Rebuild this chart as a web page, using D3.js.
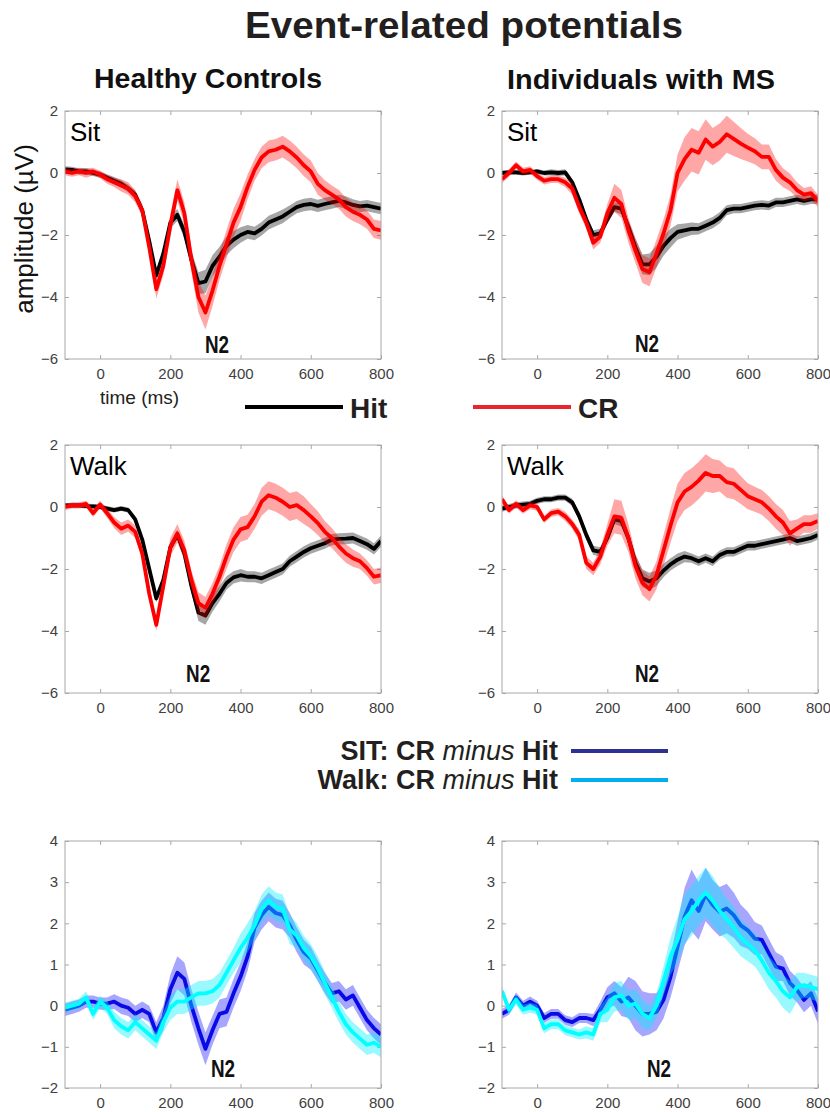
<!DOCTYPE html>
<html lang="en">
<head>
<meta charset="utf-8">
<title>Event-related potentials</title>
<script src="https://d3js.org/d3.v7.min.js"></script>
<style>
  body { margin: 0; background: #fff; }
  svg text { font-family: "Liberation Sans", Arial, sans-serif; }
  .axis text { font-size: 15px; fill: #404040; }
  .axis line { stroke: #a8a8a8; }
  .axis path { display: none; }
</style>
</head>
<body>
<script>
// time grid (ms), 20 ms steps
const times = [-100,-80,-60,-40,-20,0,20,40,60,80,
  100,120,140,160,180,200,220,240,260,280,
  300,320,340,360,380,400,420,440,460,480,
  500,520,540,560,580,600,620,640,660,680,
  700,720,740,760,780,800];

const erpTicks = [-6, -4, -2, 0, 2];
const diffTicks = [-2, -1, 0, 1, 2, 3, 4];
const timeTicks = [0, 200, 400, 600, 800];

// Healthy controls, Sit
const hcSitHit = [0.12,0.1,0.05,0.05,0.0,-0.05,-0.15,-0.25,-0.35,-0.5,
  -0.7,-1.2,-2.2,-3.3,-2.6,-1.6,-1.35,-1.9,-2.8,-3.55,
  -3.5,-3.0,-2.7,-2.35,-2.15,-2.0,-1.9,-1.95,-1.8,-1.6,
  -1.5,-1.4,-1.25,-1.1,-1.03,-1.0,-1.06,-1.0,-0.95,-0.9,
  -0.95,-1.03,-1.08,-1.05,-1.1,-1.15];
const hcSitHitSe = [0.1,0.1,0.1,0.1,0.1,0.1,0.1,0.12,0.12,0.12,
  0.13,0.15,0.15,0.15,0.15,0.18,0.2,0.22,0.28,0.35,
  0.38,0.35,0.32,0.3,0.28,0.25,0.22,0.22,0.22,0.22,
  0.22,0.22,0.2,0.2,0.2,0.2,0.2,0.2,0.2,0.2,
  0.2,0.18,0.18,0.18,0.18,0.18];
const hcSitCr = [0.05,0.0,0.05,0.0,0.05,-0.05,-0.2,-0.3,-0.4,-0.5,
  -0.75,-1.2,-2.4,-3.75,-3.0,-1.7,-0.55,-1.3,-2.8,-4.0,
  -4.5,-3.8,-3.0,-2.3,-1.6,-1.1,-0.45,0.1,0.5,0.7,
  0.75,0.85,0.7,0.5,0.25,0.05,-0.35,-0.55,-0.7,-0.85,
  -1.1,-1.25,-1.35,-1.5,-1.8,-1.85];
const hcSitCrSe = [0.12,0.12,0.12,0.15,0.12,0.12,0.15,0.15,0.2,0.2,
  0.2,0.2,0.25,0.3,0.3,0.35,0.35,0.35,0.4,0.5,
  0.55,0.5,0.45,0.45,0.45,0.45,0.4,0.35,0.35,0.35,
  0.35,0.35,0.35,0.35,0.35,0.35,0.35,0.32,0.3,0.3,
  0.3,0.3,0.3,0.3,0.3,0.3];

// Individuals with MS, Sit
const msSitHit = [0.0,0.02,0.02,0.0,0.02,0.05,0.0,0.02,0.0,0.02,
  -0.3,-0.85,-1.5,-2.0,-1.95,-1.5,-1.1,-1.15,-1.75,-2.4,
  -2.95,-2.95,-2.7,-2.35,-2.1,-1.9,-1.85,-1.8,-1.8,-1.7,
  -1.6,-1.45,-1.2,-1.15,-1.15,-1.1,-1.05,-1.03,-1.05,-0.95,
  -0.95,-0.9,-0.85,-0.9,-0.85,-0.85];
const msSitHitSe = [0.08,0.08,0.08,0.08,0.08,0.08,0.08,0.1,0.1,0.1,
  0.1,0.12,0.15,0.15,0.15,0.15,0.15,0.18,0.22,0.28,
  0.32,0.35,0.35,0.32,0.3,0.25,0.22,0.2,0.18,0.18,
  0.18,0.18,0.16,0.15,0.15,0.15,0.15,0.15,0.15,0.15,
  0.15,0.15,0.15,0.15,0.15,0.15];
const msSitCr = [-0.2,0.0,0.25,0.05,0.1,-0.1,-0.25,-0.2,-0.2,-0.3,
  -0.5,-1.1,-1.6,-2.25,-2.05,-1.3,-0.8,-1.0,-1.85,-2.5,
  -3.1,-3.2,-2.6,-1.95,-1.2,0.0,0.45,0.75,0.65,1.08,
  0.85,1.0,1.25,1.1,0.95,0.82,0.7,0.52,0.52,0.1,
  -0.15,-0.3,-0.55,-0.7,-0.65,-0.9];
const msSitCrSe = [0.12,0.12,0.12,0.12,0.12,0.12,0.12,0.12,0.12,0.15,
  0.2,0.2,0.2,0.22,0.2,0.3,0.45,0.45,0.4,0.4,
  0.45,0.45,0.45,0.45,0.5,0.6,0.7,0.7,0.7,0.65,
  0.6,0.6,0.6,0.55,0.5,0.45,0.42,0.4,0.4,0.35,
  0.3,0.28,0.25,0.22,0.22,0.2];

// Healthy controls, Walk
const hcWalkHit = [0.05,0.05,0.05,0.03,0.02,0.0,-0.05,-0.1,-0.05,-0.1,
  -0.4,-1.05,-2.0,-2.95,-2.35,-1.3,-0.9,-1.5,-2.55,-3.4,
  -3.5,-3.1,-2.8,-2.45,-2.27,-2.2,-2.25,-2.25,-2.3,-2.2,
  -2.1,-2.0,-1.75,-1.6,-1.45,-1.33,-1.25,-1.17,-1.05,-1.03,
  -1.02,-1.0,-1.1,-1.2,-1.35,-1.1];
const hcWalkHitSe = [0.08,0.08,0.08,0.08,0.08,0.08,0.08,0.08,0.08,0.08,
  0.1,0.12,0.12,0.12,0.15,0.15,0.15,0.18,0.22,0.28,
  0.3,0.28,0.25,0.22,0.2,0.2,0.18,0.18,0.18,0.18,
  0.18,0.18,0.18,0.18,0.18,0.18,0.18,0.18,0.18,0.18,
  0.18,0.18,0.18,0.18,0.18,0.18];
const hcWalkCr = [0.0,0.05,0.05,0.1,-0.2,0.08,-0.2,-0.5,-0.7,-0.6,
  -0.8,-1.5,-2.8,-3.8,-2.55,-1.3,-0.85,-1.4,-2.35,-3.1,
  -3.25,-2.8,-2.25,-1.6,-1.05,-0.72,-0.65,-0.3,0.17,0.38,
  0.3,0.17,0.0,0.06,-0.1,-0.3,-0.52,-0.8,-1.0,-1.27,
  -1.5,-1.65,-1.75,-1.97,-2.25,-2.2];
const hcWalkCrSe = [0.1,0.1,0.1,0.1,0.12,0.12,0.15,0.18,0.2,0.2,
  0.2,0.2,0.2,0.2,0.25,0.3,0.3,0.3,0.3,0.35,
  0.35,0.35,0.35,0.4,0.4,0.4,0.4,0.4,0.45,0.45,
  0.45,0.45,0.45,0.45,0.45,0.4,0.38,0.35,0.32,0.3,
  0.3,0.28,0.25,0.25,0.25,0.25];

// Individuals with MS, Walk
const msWalkHit = [-0.05,0.0,0.05,0.08,0.1,0.2,0.25,0.25,0.3,0.3,
  0.15,-0.3,-0.9,-1.4,-1.45,-1.0,-0.4,-0.45,-1.0,-1.8,
  -2.3,-2.4,-2.3,-2.05,-1.85,-1.7,-1.6,-1.65,-1.75,-1.65,
  -1.75,-1.55,-1.45,-1.45,-1.35,-1.25,-1.25,-1.2,-1.15,-1.1,
  -1.05,-1.0,-1.1,-1.05,-1.0,-0.9];
const msWalkHitSe = [0.1,0.1,0.1,0.1,0.1,0.1,0.1,0.1,0.1,0.1,
  0.12,0.15,0.15,0.15,0.15,0.15,0.15,0.18,0.2,0.25,
  0.28,0.28,0.25,0.22,0.2,0.2,0.18,0.15,0.15,0.15,
  0.15,0.15,0.15,0.15,0.15,0.15,0.15,0.15,0.15,0.15,
  0.15,0.15,0.15,0.15,0.15,0.15];
const msWalkCr = [0.25,-0.1,0.1,-0.1,0.05,0.0,-0.4,-0.2,-0.15,-0.3,
  -0.55,-0.9,-1.8,-2.0,-1.6,-0.9,-0.3,-0.35,-1.0,-1.9,
  -2.45,-2.65,-2.2,-1.4,-0.6,0.15,0.5,0.65,0.85,1.1,
  1.0,1.0,0.8,0.75,0.55,0.35,0.25,0.15,-0.05,-0.3,
  -0.5,-0.85,-0.7,-0.55,-0.55,-0.45];
const msWalkCrSe = [0.12,0.12,0.12,0.12,0.12,0.12,0.12,0.12,0.12,0.15,
  0.15,0.18,0.2,0.2,0.25,0.35,0.55,0.55,0.45,0.4,
  0.4,0.4,0.45,0.5,0.55,0.6,0.6,0.6,0.6,0.6,
  0.55,0.5,0.5,0.5,0.45,0.42,0.4,0.4,0.4,0.4,
  0.4,0.4,0.3,0.28,0.28,0.25];

// Difference waves (CR minus Hit)
const hcDiffSit = [-0.1,-0.05,0.0,0.1,0.1,0.05,0.05,0.1,0.0,-0.05,
  -0.2,-0.1,-0.2,-0.65,-0.3,0.4,0.8,0.65,0.0,-0.55,
  -1.05,-0.6,-0.2,-0.15,0.3,0.7,1.2,1.9,2.2,2.4,
  2.25,2.2,1.95,1.6,1.3,1.15,0.85,0.55,0.3,0.35,
  0.15,0.25,-0.05,-0.35,-0.55,-0.7];
const hcDiffSitSe = [0.15,0.15,0.15,0.15,0.15,0.15,0.15,0.18,0.2,0.2,
  0.2,0.2,0.2,0.25,0.3,0.35,0.4,0.4,0.4,0.4,
  0.4,0.35,0.35,0.35,0.35,0.35,0.35,0.35,0.35,0.35,
  0.35,0.35,0.3,0.3,0.3,0.28,0.25,0.25,0.25,0.25,
  0.25,0.25,0.25,0.25,0.25,0.25];
const hcDiffWalk = [-0.05,0.0,0.05,0.2,-0.2,0.1,-0.05,-0.35,-0.5,-0.6,
  -0.4,-0.55,-0.7,-0.85,-0.4,-0.05,0.1,0.1,0.2,0.3,
  0.3,0.35,0.5,0.8,1.1,1.4,1.65,1.95,2.35,2.55,
  2.4,2.35,1.85,1.7,1.4,1.2,0.9,0.55,0.2,-0.15,
  -0.45,-0.65,-0.8,-0.95,-0.9,-1.0];
const hcDiffWalkSe = [0.12,0.12,0.12,0.15,0.15,0.15,0.15,0.2,0.2,0.2,
  0.2,0.2,0.2,0.2,0.25,0.3,0.3,0.3,0.3,0.3,
  0.3,0.3,0.3,0.3,0.3,0.35,0.35,0.35,0.35,0.35,
  0.35,0.35,0.35,0.3,0.3,0.3,0.3,0.28,0.25,0.25,
  0.25,0.25,0.25,0.25,0.25,0.25];
const msDiffSit = [-0.2,-0.1,0.2,0.0,0.1,0.0,-0.3,-0.2,-0.2,-0.35,
  -0.4,-0.3,-0.3,-0.35,-0.1,0.2,0.3,0.1,0.2,0.0,
  -0.2,-0.2,-0.15,0.14,0.7,1.43,2.16,2.56,2.3,2.7,
  2.45,2.28,2.36,2.2,1.95,1.83,1.63,1.6,1.27,0.95,
  0.9,0.55,0.38,0.14,0.3,-0.14];
const msDiffSitSe = [0.12,0.12,0.12,0.12,0.12,0.12,0.12,0.12,0.12,0.12,
  0.12,0.12,0.12,0.15,0.2,0.25,0.3,0.35,0.5,0.6,
  0.55,0.5,0.45,0.45,0.5,0.6,0.7,0.75,0.7,0.65,
  0.6,0.6,0.6,0.55,0.5,0.45,0.4,0.35,0.35,0.35,
  0.3,0.3,0.3,0.3,0.3,0.3];
const msDiffWalk = [0.35,-0.1,0.15,-0.1,-0.05,-0.1,-0.55,-0.45,-0.45,-0.6,
  -0.65,-0.7,-0.65,-0.7,-0.2,-0.1,0.2,0.25,0.0,0.05,
  -0.2,-0.3,0.0,0.6,1.2,1.6,2.1,2.3,2.55,2.75,
  2.55,2.3,2.1,1.9,1.65,1.5,1.35,1.1,0.8,0.6,
  0.35,0.2,0.45,0.5,0.45,0.4];
const msDiffWalkSe = [0.12,0.12,0.12,0.12,0.12,0.12,0.12,0.12,0.12,0.12,
  0.12,0.12,0.15,0.15,0.2,0.3,0.35,0.35,0.35,0.35,
  0.35,0.3,0.3,0.35,0.45,0.55,0.6,0.6,0.6,0.6,
  0.6,0.55,0.5,0.5,0.45,0.42,0.4,0.4,0.4,0.4,
  0.4,0.4,0.35,0.3,0.3,0.3];

// where the "N2" labels sit, in [ms, value]
const n2Pos = [[333, -5.8], [313, -5.77], [279, -5.65], [313, -5.65], [350, -1.73], [347, -1.73]];

const styles = {
  hit:  {line: "#000000", band: "#000000", op: 0.35},
  cr:   {line: "#ff0000", band: "#ff0000", op: 0.35},
  sit:  {line: "#0a0ae6", band: "#2020ff", op: 0.4},
  walk: {line: "#00ffff", band: "#00f0ff", op: 0.4}
};

const W = 830, H = 1112;
const pw = 316;

const svg = d3.select("body").append("svg")
  .attr("width", W).attr("height", H)
  .style("background", "#fff");

// title + column headers
svg.append("text").attr("x", 245).attr("y", 38)
  .attr("textLength", 438).attr("lengthAdjust", "spacingAndGlyphs")
  .attr("font-size", 36).attr("font-weight", "bold").attr("fill", "#231f20")
  .text("Event-related potentials");
svg.append("text").attr("x", 94).attr("y", 88)
  .attr("textLength", 228).attr("lengthAdjust", "spacingAndGlyphs")
  .attr("font-size", 28).attr("font-weight", "bold").attr("fill", "#111")
  .text("Healthy Controls");
svg.append("text").attr("x", 507).attr("y", 89)
  .attr("textLength", 268).attr("lengthAdjust", "spacingAndGlyphs")
  .attr("font-size", 28).attr("font-weight", "bold").attr("fill", "#111")
  .text("Individuals with MS");

const panels = [
  {x: 65,  y: 111, h: 248, yDomain: [-6, 2], yTicks: erpTicks, label: "Sit",  series: [[hcSitHit, hcSitHitSe, "hit"], [hcSitCr, hcSitCrSe, "cr"]], titles: true},
  {x: 502, y: 111, h: 248, yDomain: [-6, 2], yTicks: erpTicks, label: "Sit",  series: [[msSitHit, msSitHitSe, "hit"], [msSitCr, msSitCrSe, "cr"]]},
  {x: 65,  y: 445, h: 248, yDomain: [-6, 2], yTicks: erpTicks, label: "Walk", series: [[hcWalkHit, hcWalkHitSe, "hit"], [hcWalkCr, hcWalkCrSe, "cr"]]},
  {x: 502, y: 445, h: 248, yDomain: [-6, 2], yTicks: erpTicks, label: "Walk", series: [[msWalkHit, msWalkHitSe, "hit"], [msWalkCr, msWalkCrSe, "cr"]]},
  {x: 65,  y: 841, h: 247, yDomain: [-2, 4], yTicks: diffTicks, label: null,  series: [[hcDiffSit, hcDiffSitSe, "sit"], [hcDiffWalk, hcDiffWalkSe, "walk"]]},
  {x: 502, y: 841, h: 247, yDomain: [-2, 4], yTicks: diffTicks, label: null,  series: [[msDiffSit, msDiffSitSe, "sit"], [msDiffWalk, msDiffWalkSe, "walk"]]}
];

panels.forEach((p, i) => {
  const g = svg.append("g").attr("transform", `translate(${p.x},${p.y})`);
  const x = d3.scaleLinear().domain([-100, 800]).range([0, pw]);
  const y = d3.scaleLinear().domain(p.yDomain).range([p.h, 0]);

  g.append("clipPath").attr("id", "clip" + i)
    .append("rect").attr("width", pw).attr("height", p.h);

  // axes, MATLAB-like: ticks inside on all four sides
  g.append("g").attr("class", "axis").attr("transform", `translate(0,${p.h})`)
    .call(d3.axisBottom(x).tickValues(timeTicks).tickSizeInner(-4).tickSizeOuter(0).tickPadding(9));
  g.append("g").attr("class", "axis")
    .call(d3.axisTop(x).tickValues(timeTicks).tickSizeInner(-4).tickSizeOuter(0).tickFormat(""));
  g.append("g").attr("class", "axis")
    .call(d3.axisLeft(y).tickValues(p.yTicks).tickSizeInner(-4).tickSizeOuter(0)
      .tickPadding(7).tickFormat(d3.format("d")));
  g.append("g").attr("class", "axis").attr("transform", `translate(${pw},0)`)
    .call(d3.axisRight(y).tickValues(p.yTicks).tickSizeInner(-4).tickSizeOuter(0).tickFormat(""));

  const plot = g.append("g").attr("clip-path", `url(#clip${i})`);
  p.series.forEach(([vals, se, key]) => {
    const st = styles[key];
    const pts = times.map((t, k) => ({t: t, v: vals[k], e: se[k]}));
    plot.append("path").datum(pts)
      .attr("fill", st.band).attr("fill-opacity", st.op).attr("stroke", "none")
      .attr("d", d3.area().x(d => x(d.t)).y0(d => y(d.v - d.e)).y1(d => y(d.v + d.e)));
    plot.append("path").datum(pts)
      .attr("fill", "none").attr("stroke", st.line).attr("stroke-width", 3.8)
      .attr("stroke-linejoin", "round")
      .attr("d", d3.line().x(d => x(d.t)).y(d => y(d.v)));
  });

  g.append("rect").attr("width", pw).attr("height", p.h)
    .attr("fill", "none").attr("stroke", "#a8a8a8").attr("stroke-width", 1);

  if (p.label) {
    g.append("text").attr("x", 5).attr("y", 30)
      .attr("font-size", 26).attr("fill", "#000").text(p.label);
  }
  // narrow bold "N2" marker
  g.append("text")
    .attr("transform", `translate(${x(n2Pos[i][0])},${y(n2Pos[i][1])}) scale(0.82,1)`)
    .attr("text-anchor", "middle").attr("font-size", 23).attr("font-weight", "bold")
    .attr("fill", "#111").text("N2");

  if (p.titles) {
    g.append("text").attr("transform", `translate(-32,118) rotate(-90)`)
      .attr("text-anchor", "middle").attr("font-size", 26).attr("fill", "#111")
      .text("amplitude (\u00b5V)");
    g.append("text").attr("x", 35).attr("y", 293)
      .attr("font-size", 19).attr("fill", "#222")
      .text("time (ms)");
  }
});

// legend: Hit / CR
const leg1 = [
  {x1: 245, x2: 343, color: "#000000", label: "Hit"},
  {x1: 473, x2: 571, color: "#e8262b", label: "CR"}
];
leg1.forEach(d => {
  svg.append("line").attr("x1", d.x1).attr("x2", d.x2).attr("y1", 407).attr("y2", 407)
    .attr("stroke", d.color).attr("stroke-width", 4);
  svg.append("text").attr("x", d.x2 + 7).attr("y", 418)
    .attr("font-size", 28).attr("font-weight", "bold").attr("fill", "#231f20")
    .text(d.label);
});

// legend: difference waves
const leg2 = [
  {y: 751, cond: "SIT:", color: "#2e3192"},
  {y: 780, cond: "Walk:", color: "#00aeef"}
];
leg2.forEach(d => {
  const t = svg.append("text").attr("x", 558).attr("y", d.y + 9)
    .attr("text-anchor", "end").attr("font-size", 27).attr("fill", "#231f20");
  t.append("tspan").attr("font-weight", "bold").text(d.cond + " CR ");
  t.append("tspan").attr("font-style", "italic").text("minus");
  t.append("tspan").attr("font-weight", "bold").text(" Hit");
  svg.append("line").attr("x1", 571).attr("x2", 668).attr("y1", d.y).attr("y2", d.y)
    .attr("stroke", d.color).attr("stroke-width", 4);
});
</script>
</body>
</html>
